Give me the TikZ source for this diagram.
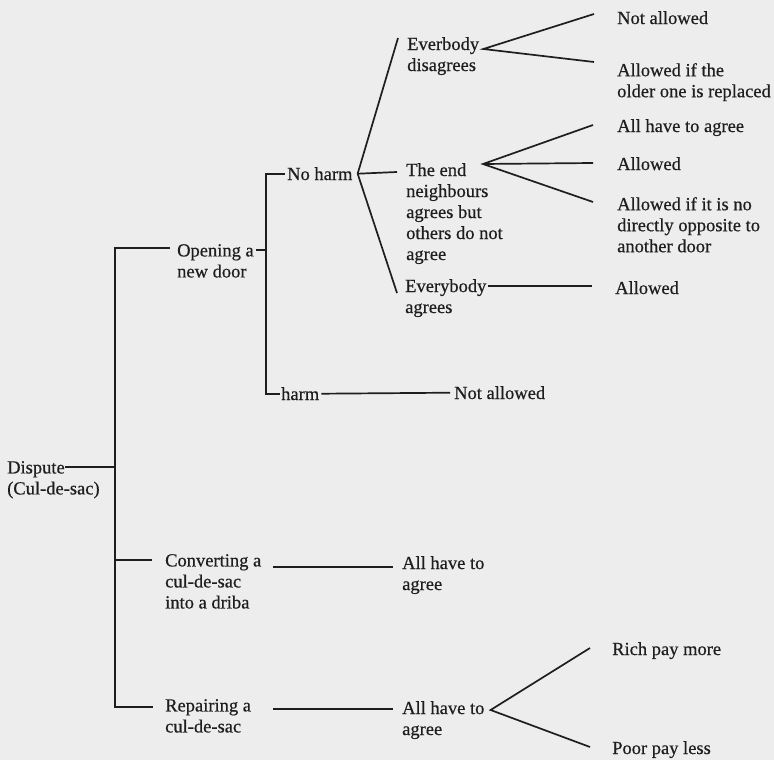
\documentclass[tikz,border=0pt]{standalone}
\usepackage{fontspec}
\setmainfont{Liberation Serif}[FakeBold=0.5]
\newcommand{\entrysize}{\fontsize{18.5}{21}\selectfont}
\definecolor{paper}{RGB}{237,237,237}
\definecolor{ink}{RGB}{30,30,30}
\tikzstyle{entry} = [% a case or an outcome of the dispute
  anchor=north west,
  inner sep=0pt,
  align=left,
  text=ink,
  font=\entrysize
  ]
\tikzstyle{branch} = [% line of the tree
  draw=ink,
  line width=1.7pt
  ]

\begin{document}
\begin{tikzpicture}[x=1pt, y=-1pt]
\fill[paper] (0,0) rectangle (774,760);
\useasboundingbox (0,0) rectangle (774,760);

%%% Nodes
\node[entry] (dispute) at (7,461) {Dispute\\(Cul-de-sac)};
\node[entry] (open) at (177,244) {Opening a\\new door};
\node[entry] (conv) at (165,554) {Converting a\\cul-de-sac\\into a driba};
\node[entry] (repair) at (165,699) {Repairing a\\cul-de-sac};
\node[entry] (noharm) at (287,167) {No harm};
\node[entry] (harm) at (281,387) {harm};
\node[entry] (disagree) at (407,37) {Everbody\\disagrees};
\node[entry] (endnb) at (406,163) {The end\\neighbours\\agrees but\\others do not\\agree};
\node[entry] (agreeall) at (405,279) {Everybody\\agrees};
\node[entry] (notallowA) at (617,11) {Not allowed};
\node[entry] (allowrepl) at (617,63) {Allowed if the\\older one is replaced};
\node[entry] (allagree) at (617,119) {All have to agree};
\node[entry] (allowA) at (617,157) {Allowed};
\node[entry] (allowopp) at (617,197) {Allowed if it is no\\directly opposite to\\another door};
\node[entry] (allowB) at (615,281) {Allowed};
\node[entry] (notallowB) at (454,386) {Not allowed};
\node[entry] (convagree) at (402,556) {All have to\\agree};
\node[entry] (repagree) at (402,701) {All have to\\agree};
\node[entry] (rich) at (612,642) {Rich pay more};
\node[entry] (poor) at (612,741) {Poor pay less};

%%% Joints
\coordinate (b1) at (115,467);
\coordinate (b2) at (266,250);
\coordinate (dispute-r) at ([shift={(58,6)}]dispute.north west);
\coordinate (open-l) at ([shift={(-7,4)}]open.north west);
\coordinate (open-r) at ([shift={(2,6)}]open.north east);
\coordinate (conv-l) at ([shift={(-13,6)}]conv.north west);
\coordinate (conv-r) at ([shift={(12,13)}]conv.north east);
\coordinate (repair-l) at ([shift={(-12,8)}]repair.north west);
\coordinate (repair-r) at ([shift={(22,10)}]repair.north east);
\coordinate (noharm-l) at ([xshift=-2pt]noharm.west);
\coordinate (noharm-v) at ([xshift=5pt]noharm.east);
\coordinate (harm-l) at ([xshift=-1pt]harm.west);
\coordinate (disagree-v) at ([shift={(4,12)}]disagree.north east);
\coordinate (endnb-v) at ([shift={(77,1)}]endnb.north west);
\coordinate (repagree-v) at ([shift={(6,9)}]repagree.north east);

%%% Brackets
\draw[branch] (open-l) -| (b1) |- (repair-l);
\draw[branch] (dispute-r) -- (b1);
\draw[branch] (b1 |- conv-l) -- (conv-l);
\draw[branch] (noharm-l) -| (b2) |- (harm-l);
\draw[branch] (open-r) -- (b2);

%%% Fans
\draw[branch] ([shift={(-9,1)}]disagree.north west) -- (noharm-v)
  -- ([shift={(-8,14)}]agreeall.north west);
\draw[branch] (noharm-v) -- ([shift={(-9,9)}]endnb.north west);
\draw[branch] ([shift={(-23,3)}]notallowA.north west) -- (disagree-v)
  -- ([shift={(-23,-1)}]allowrepl.north west);
\draw[branch] ([shift={(-24,6)}]allagree.north west) -- (endnb-v)
  -- ([shift={(-24,5)}]allowopp.north west);
\draw[branch] (endnb-v) -- ([shift={(-24,6)}]allowA.north west);
\draw[branch] ([shift={(1,7)}]agreeall.north east) -- ([shift={(-23,5)}]allowB.north west);
\draw[branch] ([xshift=2pt]harm.east) -- ([xshift=-4pt]notallowB.west);
\draw[branch] (conv-r) -- ([shift={(-9,11)}]convagree.north west);
\draw[branch] (repair-r) -- ([shift={(-9,8)}]repagree.north west);
\draw[branch] ([shift={(-22,6)}]rich.north west) -- (repagree-v)
  -- ([shift={(-22,6)}]poor.north west);

\end{tikzpicture}
\end{document}
